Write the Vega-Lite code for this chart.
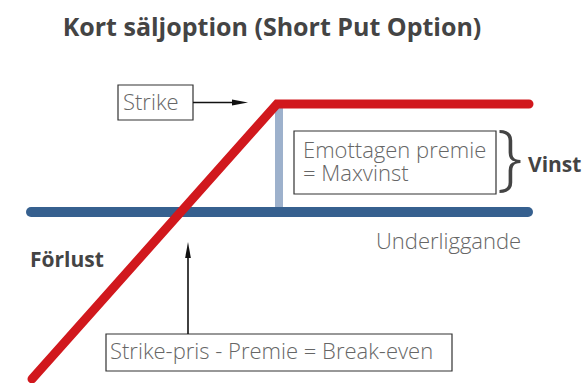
{
  "$schema": "https://vega.github.io/schema/vega-lite/v6.json",
  "width": 586,
  "height": 383,
  "autosize": {"type": "none"},
  "padding": 0,
  "background": "white",
  "config": {"view": {"stroke": null}},
  "datasets": {
    "blue": [{"x": 31, "y": 212}, {"x": 528, "y": 212}],
    "red": [{"x": 32, "y": 379}, {"x": 277, "y": 104}, {"x": 529, "y": 104}],
    "bar": [{"x": 279, "y": 108, "y2": 207}],
    "boxes": [
      {"x": 118, "x2": 193, "y": 85, "y2": 120},
      {"x": 294, "x2": 496, "y": 131, "y2": 194},
      {"x": 106, "x2": 452, "y": 334, "y2": 371}
    ],
    "arrows": [
      {"x": 193, "x2": 240, "y": 102.5, "y2": 102.5},
      {"x": 188, "x2": 188, "y": 250, "y2": 334}
    ],
    "headRight": [{"x": 240, "y": 102.5}],
    "headUp": [{"x": 188, "y": 250}],
    "light": [
      {"x": 123, "y": 110, "t": "Strike"},
      {"x": 303, "y": 158, "t": ["Emottagen premie", "= Maxvinst"]},
      {"x": 376, "y": 249, "t": "Underliggande"},
      {"x": 110, "y": 359, "t": "Strike-pris - Premie = Break-even"}
    ],
    "bold": [
      {"x": 30, "y": 267, "t": "Förlust"},
      {"x": 528, "y": 172, "t": "Vinst"}
    ],
    "title": [{"x": 272, "y": 36, "t": "Kort säljoption (Short Put Option)"}],
    "brace": [{"x": 497, "y": 160, "t": "}"}]
  },
  "encoding": {
    "x": {"field": "x", "type": "quantitative", "scale": {"domain": [0, 586], "nice": false, "zero": false}, "axis": null},
    "y": {"field": "y", "type": "quantitative", "scale": {"domain": [0, 383], "nice": false, "zero": false, "reverse": true}, "axis": null}
  },
  "layer": [
    {
      "data": {"name": "bar"},
      "mark": {"type": "rule", "color": "#9db1cc", "strokeWidth": 8},
      "encoding": {"y2": {"field": "y2"}}
    },
    {
      "data": {"name": "blue"},
      "mark": {"type": "line", "color": "#36608f", "strokeWidth": 10, "strokeCap": "round"},
      "encoding": {}
    },
    {
      "data": {"name": "red"},
      "mark": {"type": "line", "color": "#d1181d", "strokeWidth": 9, "strokeCap": "round", "strokeJoin": "miter"},
      "encoding": {}
    },
    {
      "data": {"name": "boxes"},
      "mark": {"type": "rect", "fill": "white", "stroke": "#333333", "strokeWidth": 1.2},
      "encoding": {"x2": {"field": "x2"}, "y2": {"field": "y2"}}
    },
    {
      "data": {"name": "arrows"},
      "mark": {"type": "rule", "color": "#111111", "strokeWidth": 1.6},
      "encoding": {"x2": {"field": "x2"}, "y2": {"field": "y2"}}
    },
    {
      "data": {"name": "headRight"},
      "mark": {"type": "point", "shape": "M1,0L-1,0.36L-1,-0.36Z", "filled": true, "color": "#111111", "opacity": 1, "size": 256, "strokeWidth": 0}
    },
    {
      "data": {"name": "headUp"},
      "mark": {"type": "point", "shape": "M0,-1L0.36,1L-0.36,1Z", "filled": true, "color": "#111111", "opacity": 1, "size": 256, "strokeWidth": 0}
    },
    {
      "data": {"name": "light"},
      "mark": {"type": "text", "align": "left", "baseline": "alphabetic", "font": "Open Sans", "fontWeight": 300, "fontSize": 22, "lineHeight": 23, "color": "#666666"},
      "encoding": {"text": {"field": "t"}}
    },
    {
      "data": {"name": "bold"},
      "mark": {"type": "text", "align": "left", "baseline": "alphabetic", "font": "Open Sans", "fontWeight": "bold", "fontSize": 21, "color": "#444444"},
      "encoding": {"text": {"field": "t"}}
    },
    {
      "data": {"name": "title"},
      "mark": {"type": "text", "align": "center", "baseline": "alphabetic", "font": "Open Sans", "fontWeight": "bold", "fontSize": 25, "color": "#444444"},
      "encoding": {"text": {"field": "t"}}
    },
    {
      "data": {"name": "brace"},
      "mark": {"type": "text", "align": "left", "baseline": "middle", "font": "Open Sans", "fontWeight": 300, "fontSize": 72, "color": "#444444"},
      "encoding": {"text": {"field": "t"}}
    }
  ]
}
